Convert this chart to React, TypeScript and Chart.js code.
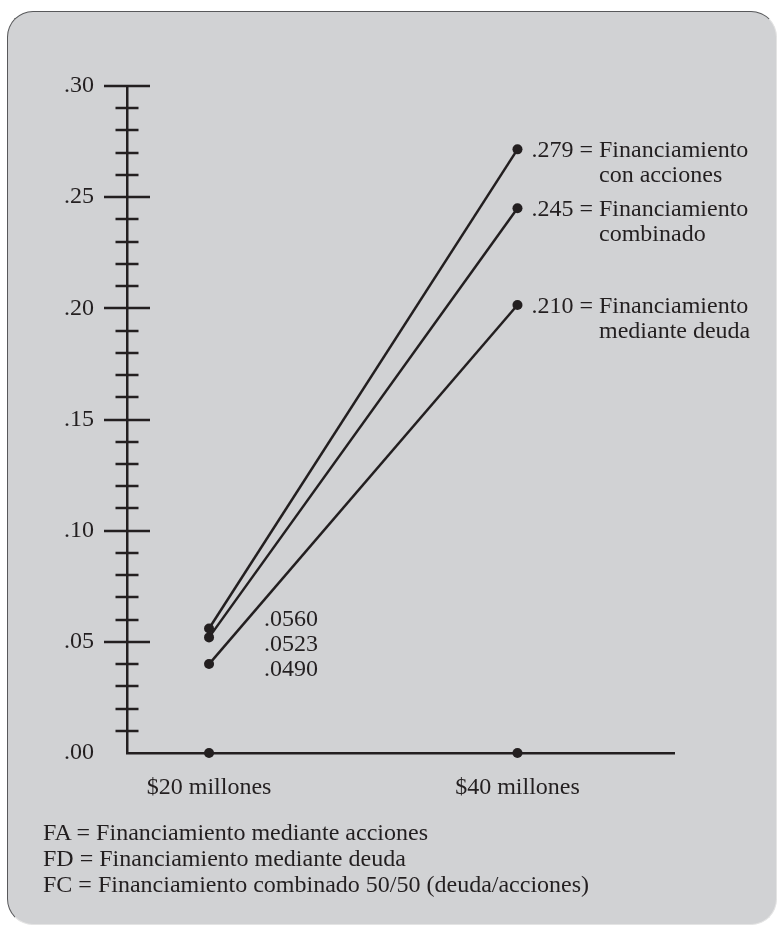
import React, { useEffect, useRef } from "react";
import { Chart, registerables } from "chart.js";

Chart.register(...registerables);

// ---- data ----
const categories = [20, 40];
const xTickLabels = ["$20 millones", "$40 millones"];
const accionesValues = [0.056, 0.2715];
const combinadoValues = [0.052, 0.245];
const deudaValues = [0.04, 0.2015];
const axisMarkerValues = [0, 0];
const startLabels = [".0560", ".0523", ".0490"];
const endValueLabels = [".279", ".245", ".210"];
const endNameLine1 = ["Financiamiento", "Financiamiento", "Financiamiento"];
const endNameLine2 = ["con acciones", "combinado", "mediante deuda"];
const legendLines = [
  "FA = Financiamiento mediante acciones",
  "FD = Financiamiento mediante deuda",
  "FC = Financiamiento combinado 50/50 (deuda/acciones)",
];

const INK = "#231f20";
const FONT_FAMILY = '"Liberation Serif", "Times New Roman", serif';
const FONT_SIZE = 24;

const tickMarksPlugin = {
  id: "tickMarks",
  afterDraw(chart: any) {
    const y = chart.scales.y;
    const x0 = chart.chartArea.left;
    const ctx = chart.ctx;
    ctx.save();
    ctx.strokeStyle = INK;
    ctx.lineWidth = 2.5;
    y.ticks.forEach((t: any) => {
      const hundredths = Math.round(t.value * 100);
      if (hundredths === 0) return;
      const py = Math.round(y.getPixelForValue(t.value));
      const major = hundredths % 5 === 0;
      const half = major ? 23 : 11.5;
      ctx.beginPath();
      ctx.moveTo(x0 - half, py);
      ctx.lineTo(x0 + half, py);
      ctx.stroke();
    });
    ctx.restore();
  },
};

const annotationPlugin = {
  id: "annotations",
  afterDatasetsDraw(chart: any) {
    const ctx = chart.ctx;
    ctx.save();
    ctx.font = `${FONT_SIZE}px ${FONT_FAMILY}`;
    ctx.fillStyle = INK;
    ctx.textAlign = "left";
    ctx.textBaseline = "alphabetic";
    const capHalf = 7.9;
    for (let i = 0; i < 3; i++) {
      const p = chart.getDatasetMeta(i).data[1];
      const head = endValueLabels[i] + " = ";
      const x = p.x + 14;
      ctx.fillText(head + endNameLine1[i], x, p.y + capHalf);
      const w = ctx.measureText(head).width;
      ctx.fillText(endNameLine2[i], x + w, p.y + capHalf + 25);
    }
    const p0 = chart.getDatasetMeta(0).data[0];
    startLabels.forEach((s, j) => {
      ctx.fillText(s, p0.x + 55, p0.y - 10 + capHalf + j * 25);
    });
    ctx.restore();
  },
};

function ChartCanvas() {
  const ref = useRef<HTMLCanvasElement | null>(null);
  useEffect(() => {
    if (!ref.current) return;
    const pt = (vals: number[]) => categories.map((c, i) => ({ x: c, y: vals[i] }));
    const lineDs = (label: string, vals: number[]) => ({
      label,
      data: pt(vals),
      borderColor: INK,
      backgroundColor: INK,
      borderWidth: 2.5,
      pointRadius: 5,
      pointBorderWidth: 0,
      pointBackgroundColor: INK,
      showLine: true,
      clip: false,
    });
    const chart = new Chart(ref.current, {
      type: "scatter",
      data: {
        datasets: [
          lineDs("FA", accionesValues),
          lineDs("FC", combinadoValues),
          lineDs("FD", deudaValues),
          {
            label: "eje",
            data: pt(axisMarkerValues),
            backgroundColor: INK,
            borderColor: INK,
            pointRadius: 5,
            pointBorderWidth: 0,
            showLine: false,
            clip: false,
          },
        ],
      },
      options: {
        animation: false,
        responsive: false,
        devicePixelRatio: 1,
        layout: { padding: { top: 86, right: 104, left: 0, bottom: 0 } },
        plugins: { legend: { display: false }, tooltip: { enabled: false } },
        scales: {
          x: {
            type: "linear",
            min: 14.68,
            max: 50.15,
            grid: { display: false, drawTicks: false },
            border: { display: true, color: INK, width: 2.5 },
            afterBuildTicks: (scale: any) => {
              scale.ticks = categories.map((v) => ({ value: v }));
            },
            afterFit: (scale: any) => {
              scale.height = 175;
            },
            ticks: {
              autoSkip: false,
              maxRotation: 0,
              padding: 20,
              color: INK,
              font: { family: FONT_FAMILY, size: FONT_SIZE },
              callback: (v: any) => {
                const i = categories.indexOf(Number(v));
                return i >= 0 ? xTickLabels[i] : "";
              },
            },
          },
          y: {
            type: "linear",
            min: 0,
            max: 0.3,
            grid: { display: false, drawTicks: false },
            border: { display: true, color: INK, width: 2.5 },
            afterFit: (scale: any) => {
              scale.width = 127;
            },
            ticks: {
              stepSize: 0.01,
              autoSkip: false,
              padding: 33,
              color: INK,
              font: { family: FONT_FAMILY, size: FONT_SIZE },
              callback: (v: any) => {
                const h = Math.round(Number(v) * 100);
                if (h % 5 !== 0) return "";
                return "." + String(h).padStart(2, "0");
              },
            },
          },
        },
      } as any,
      plugins: [tickMarksPlugin, annotationPlugin],
    } as any);
    return () => chart.destroy();
  }, []);
  return (
    <canvas
      ref={ref}
      width={778}
      height={928}
      style={{ position: "fixed", left: 0, top: 0, width: 778, height: 928, zIndex: 2 }}
    />
  );
}

export default function App() {
  return (
    <div>
      <div
        style={{
          position: "fixed",
          left: 7,
          top: 11,
          width: 770,
          height: 914,
          boxSizing: "border-box",
          background: "#d1d2d4",
          borderTop: "1.5px solid #58595b",
          borderLeft: "1.5px solid #58595b",
          borderRight: "1px solid #e4e4e4",
          borderBottom: "1px solid #e4e4e4",
          borderRadius: 26,
          zIndex: 1,
        }}
      />
      <ChartCanvas />
      <div
        style={{
          position: "fixed",
          left: 43,
          top: 819,
          fontFamily: FONT_FAMILY,
          fontSize: FONT_SIZE,
          lineHeight: "26px",
          color: INK,
          whiteSpace: "nowrap",
          zIndex: 3,
        }}
      >
        {legendLines.map((l) => (
          <div key={l}>{l}</div>
        ))}
      </div>
    </div>
  );
}
